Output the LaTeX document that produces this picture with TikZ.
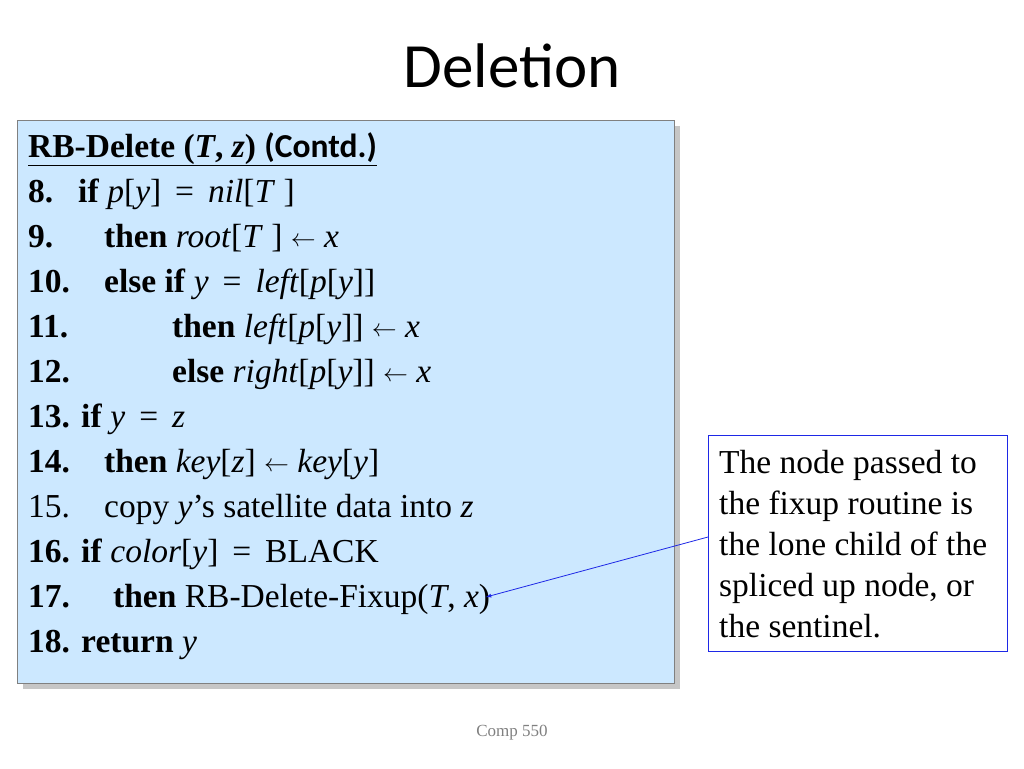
\documentclass[tikz,border=0pt]{standalone}
\usepackage{fontspec}
\setmainfont{Liberation Serif}
\newfontfamily\titlefont{Carlito}
\usetikzlibrary{positioning}
\definecolor{codefill}{RGB}{204,232,255}
\definecolor{notecolor}{RGB}{30,40,230}
\tikzset{
  codeline/.style={anchor=base west,inner sep=0pt,font=\fontsize{33.5}{36}\selectfont},
  notetext/.style={anchor=base west,inner sep=0pt,font=\fontsize{33.5}{36}\selectfont},
}
\newcommand{\la}{\raisebox{1pt}{\fontsize{44}{44}\selectfont$\leftarrow$}}
\newcommand{\eqs}{\ \,=\ \,}
\begin{document}
\begin{tikzpicture}[x=1pt,y=-1pt]
    \useasboundingbox (0,0) rectangle (1024,768);
    \node[font=\titlefont\fontsize{63}{66}\selectfont] (title) at (512,66) {Deletion};

    % code box with shadow
    \fill[gray!45] (23,126) rectangle (680,689);
    \draw[gray,fill=codefill] (17,120) rectangle (674,683);

    \node[codeline] (l0) at (28,157) {\underline{\textbf{RB-Delete (\textit{T}, \textit{z}) {\titlefont(Contd.)}}}};
    \node[codeline] (l8) at (28,202) {\textbf{8.}};
    \node[codeline] at (78,202) {\textbf{if} \textit{p}[\textit{y}]\eqs\textit{nil}[\textit{T} ]};
    \node[codeline] (l9) at (28,247) {\textbf{9.}};
    \node[codeline] at (104,247) {\textbf{then} \textit{root}[\textit{T} ] \la\ \textit{x}};
    \node[codeline] (l10) at (28,292) {\textbf{10.}};
    \node[codeline] at (104,292) {\textbf{else if} \textit{y}\eqs\textit{left}[\textit{p}[\textit{y}]]};
    \node[codeline] (l11) at (28,337) {\textbf{11.}};
    \node[codeline] at (172,337) {\textbf{then} \textit{left}[\textit{p}[\textit{y}]] \la\ \textit{x}};
    \node[codeline] (l12) at (28,382) {\textbf{12.}};
    \node[codeline] at (172,382) {\textbf{else} \textit{right}[\textit{p}[\textit{y}]] \la\ \textit{x}};
    \node[codeline] (l13) at (28,427) {\textbf{13. if} \textit{y}\eqs\textit{z}};
    \node[codeline] (l14) at (28,472) {\textbf{14.}};
    \node[codeline] at (104,472) {\textbf{then} \textit{key}[\textit{z}] \la\ \textit{key}[\textit{y}]};
    \node[codeline] (l15) at (28,517) {15.};
    \node[codeline] at (104,517) {copy \textit{y}'s satellite data into \textit{z}};
    \node[codeline] (l16) at (28,562) {\textbf{16. if} \textit{color}[\textit{y}]\eqs BLACK};
    \node[codeline] (l17) at (28,607) {\textbf{17.}};
    \node[codeline] (fix) at (113,607) {\textbf{then} RB-Delete-Fixup(\textit{T}, \textit{x})};
    \node[codeline] (l18) at (28,652) {\textbf{18. return} \textit{y}};

    % note box
    \draw[notecolor,fill=white] (708,435) rectangle (1007,651);
    \node[notetext] (n1) at (719,473) {The node passed to};
    \node[notetext] (n2) at (719,514) {the fixup routine is};
    \node[notetext] (n3) at (719,555) {the lone child of the};
    \node[notetext] (n4) at (719,596) {spliced up node, or};
    \node[notetext] (n5) at (719,637) {the sentinel.};
    \coordinate (notepin) at (708,537);
    \coordinate (xpin) at (486,597);
    \draw[notecolor,thick,-latex] (notepin) -- (xpin);

    \node[font=\fontsize{17}{19}\selectfont,text=gray] (foot) at (512,733) {Comp 550};
\end{tikzpicture}
\end{document}
